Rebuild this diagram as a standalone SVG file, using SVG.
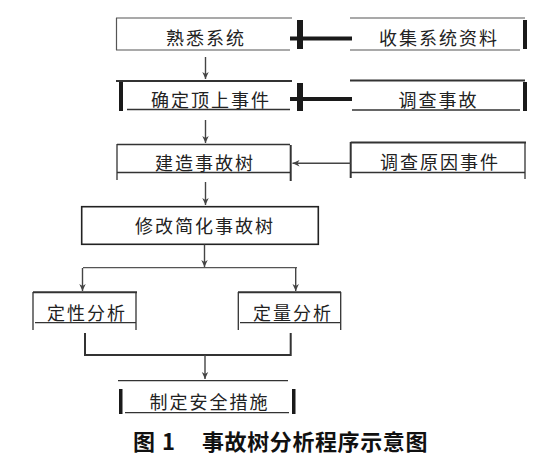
<svg xmlns="http://www.w3.org/2000/svg" width="541" height="467" viewBox="0 0 541 467">
<style>
.bg{fill:#ffffff}
.ln{stroke:#333;stroke-width:1.3;fill:none}
.lg{stroke:#555;stroke-width:1.2;fill:none}
.lt{stroke:#333;stroke-width:2;fill:none}
.bar{fill:#1a1a1a}
.thk{stroke:#1a1a1a;stroke-width:4;fill:none}
.ar{stroke:#444;stroke-width:1.4;fill:none;marker-end:url(#ah)}
.t{font-family:"Noto Sans CJK SC","Noto Sans CJK JP",sans-serif;font-size:18px;fill:#222;text-anchor:middle;letter-spacing:2px}
.cap{font-family:"Noto Sans CJK SC","Noto Sans CJK JP",sans-serif;font-size:22px;font-weight:bold;fill:#111}
</style>
<defs>
<marker id="ah" markerUnits="userSpaceOnUse" markerWidth="8" markerHeight="8" viewBox="0 0 8 8" refX="7" refY="4" orient="auto">
<path d="M0,0.8 L7,4 L0,7.2 L2,4 Z" fill="#444"/>
</marker>
</defs>
<rect class="bg" x="0" y="0" width="541" height="467"/>

<g id="node-shuxi">
<path class="lg" d="M116,18 H292 M116.5,18 V50 M116,50 H290"/>
<text class="t" x="206" y="45">熟悉系统</text>
</g>
<g id="node-shouji">
<path class="lg" d="M350,18 H525 M350,50 H520"/>
<rect class="bar" x="523" y="20" width="4" height="29"/>
<text class="t" x="439" y="45">收集系统资料</text>
</g>
<g id="node-queding">
<path class="lt" d="M116,81 H292"/>
<path class="ln" d="M127,109.5 H290"/>
<rect class="bar" x="119" y="82" width="4" height="29"/>
<text class="t" x="211" y="107">确定顶上事件</text>
</g>
<g id="node-diaocha">
<path class="lt" d="M350,80.5 H525"/>
<path class="ln" d="M352,110 H520"/>
<rect class="bar" x="523" y="82" width="4" height="29"/>
<text class="t" x="438.5" y="107">调查事故</text>
</g>
<g id="node-jianzao">
<path class="ln" d="M117,144.5 H290 M117,144 V180 M117,172.5 H290"/>
<path class="lt" d="M290.7,145 V181"/>
<text class="t" x="205" y="170">建造事故树</text>
</g>
<g id="node-yuanyin">
<path class="lt" d="M350.7,142.5 H526 M350.7,142 V178"/>
<path class="ln" d="M351,172.5 H525 M525,143 V179"/>
<text class="t" x="440" y="169">调查原因事件</text>
</g>
<g id="node-xiugai">
<rect x="81.7" y="206.7" width="236.6" height="37.6" fill="none" stroke="#222" stroke-width="1.6"/>
<text class="t" x="205" y="233">修改简化事故树</text>
</g>
<g id="node-dingxing">
<path class="lt" d="M33,292.3 H137"/>
<path class="ln" d="M33,292 V330 M35,322.7 H136 M136,292 V330"/>
<text class="t" x="87" y="320">定性分析</text>
</g>
<g id="node-dingliang">
<path class="lt" d="M238,292.3 H341"/>
<path class="ln" d="M238.3,292 V330 M240,322.7 H340 M340.7,292 V330"/>
<text class="t" x="293" y="320">定量分析</text>
</g>
<g id="node-zhiding">
<path class="ln" d="M118,380.7 H288 M125,412.7 H289"/>
<rect class="bar" x="119" y="389" width="3.5" height="25"/>
<rect class="bar" x="292" y="389" width="3.5" height="25"/>
<text class="t" x="209.5" y="409">制定安全措施</text>
</g>

<g id="connectors">
<rect class="bar" x="297" y="20" width="6" height="29"/>
<path class="thk" d="M290,38.5 H352"/>
<rect class="bar" x="297" y="83" width="6" height="28"/>
<path class="thk" d="M290,99 H352"/>
<path class="ar" d="M205.5,57 V79"/>
<path class="ar" d="M205.5,120 V143"/>
<path class="ar" d="M350.7,163.3 H292.5"/>
<path class="ar" d="M205.5,182 V205"/>
<path class="ar" d="M204.5,244.5 V267"/>
<path class="lg" d="M83,267.7 H297"/>
<path class="ar" d="M82.5,268 V291"/>
<path class="ar" d="M295.7,268 V291"/>
<path class="lt" d="M85,333 V355 H290.7 V333"/>
<path class="ar" d="M205,355 V379"/>
</g>

<g id="caption">
<text class="cap" y="450"><tspan x="133">图</tspan><tspan x="162">1</tspan><tspan x="202" letter-spacing="0.6">事故树分析程序示意图</tspan></text>
</g>
</svg>
